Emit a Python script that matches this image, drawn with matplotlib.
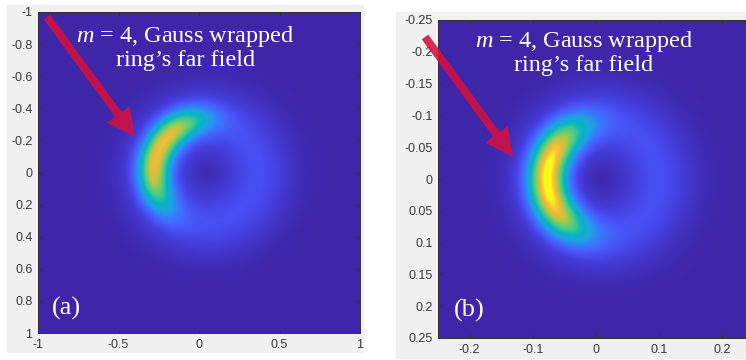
import numpy as np
import matplotlib
matplotlib.use("Agg")
import matplotlib.pyplot as plt
from matplotlib.colors import LinearSegmentedColormap
from matplotlib.patches import Rectangle, FancyArrow

plt.rcParams["mathtext.fontset"] = "custom"
plt.rcParams["mathtext.rm"] = "Liberation Serif"
plt.rcParams["mathtext.it"] = "Liberation Serif:italic"

# parula-like colour map (MATLAB default)
parula_pos = [0, 8, 12, 16, 20, 24, 28, 32, 36, 40, 44, 48, 52, 56, 60, 63]
parula_rgb = [
    (0.2422, 0.1504, 0.6603), (0.2717, 0.2468, 0.8779), (0.2810, 0.3228, 0.9579),
    (0.2691, 0.4016, 0.9917), (0.2000, 0.4900, 0.9900), (0.1540, 0.5902, 0.9218),
    (0.1093, 0.6547, 0.8591), (0.0238, 0.6943, 0.7963), (0.0770, 0.7349, 0.7000),
    (0.2161, 0.7843, 0.5923), (0.3560, 0.8000, 0.4800), (0.5300, 0.7950, 0.3700),
    (0.7463, 0.7735, 0.2645), (0.9000, 0.7300, 0.2400), (0.9932, 0.7731, 0.2093),
    (0.9769, 0.9839, 0.0805),
]
parula = LinearSegmentedColormap.from_list(
    "parula", list(zip(np.array(parula_pos) / 63.0, parula_rgb)))

# far-field ring parameters for the two panels
half_span = [1.0, 0.25]           # axis half range
ring_x0 = [0.05, 0.01]            # ring centre
ring_y0 = [0.0, 0.0]
halo_radius = [0.31, 0.088]
halo_width = [0.22, 0.058]
halo_amp = [0.18, 0.18]
cres_radius = [0.33, 0.087]
cres_width = [0.10, 0.03]
cres_angle = [204.0, 180.0]       # degrees, y axis pointing down
cres_spread = [66.0, 72.0]
cres_amp = [0.74, 0.84]


x_ticks = [[-1, -0.5, 0, 0.5, 1], [-0.2, -0.1, 0, 0.1, 0.2]]
y_ticks = [[-1, -0.8, -0.6, -0.4, -0.2, 0, 0.2, 0.4, 0.6, 0.8, 1],
           [-0.25, -0.2, -0.15, -0.1, -0.05, 0, 0.05, 0.1, 0.15, 0.2, 0.25]]
panel_tags = ["(a)", "(b)"]
caption = "$m$ = 4, Gauss wrapped\nring\u2019s far field"


def far_field(i, n=400):
    s = half_span[i]
    g = np.linspace(-s, s, n)
    X, Y = np.meshgrid(g, g)
    dx, dy = X - ring_x0[i], Y - ring_y0[i]
    r = np.hypot(dx, dy)
    th = np.degrees(np.arctan2(dy, dx))
    dth = (th - cres_angle[i] + 180) % 360 - 180
    halo = halo_amp[i] * np.exp(-((r - halo_radius[i]) / halo_width[i]) ** 2)
    cres = cres_amp[i] * np.exp(-((r - cres_radius[i]) / cres_width[i]) ** 2) \
        * np.exp(-np.abs(dth / cres_spread[i]) ** 3)
    return halo + cres


fig = plt.figure(figsize=(7.46, 3.6), dpi=100)
W, H = 746, 360

def px(x, y, w, h):
    return [x / W, 1 - (y + h) / H, w / W, h / H]

# grey MATLAB figure backgrounds
for x, y, w, h in [(7, 5, 356, 347), (396, 12, 360, 346)]:
    fig.add_artist(Rectangle((x / W, 1 - (y + h) / H), w / W, h / H,
                             transform=fig.transFigure, color="#f0f0f0", zorder=0))

axes_box = [px(38, 12, 322, 321), px(438, 20, 316, 318)]
text_pos = [(0.457, 0.89), (0.462, 0.898)]
tag_pos = [(0.087, 0.078), (0.10, 0.088)]

for i in range(2):
    ax = fig.add_axes(axes_box[i])
    s = half_span[i]
    ax.imshow(far_field(i), cmap=parula, vmin=0, vmax=1, origin="upper",
              extent=(-s, s, s, -s), aspect="auto", interpolation="bilinear")
    ax.set_xlim(-s, s)
    ax.set_ylim(s, -s)
    ax.set_xticks(x_ticks[i])
    ax.set_yticks(y_ticks[i])
    ax.set_xticklabels([f"{v:g}" for v in x_ticks[i]])
    ax.set_yticklabels([f"{v:g}" for v in y_ticks[i]])
    ax.tick_params(direction="in", length=3, width=0.6, color="#333333",
                   labelsize=9, labelcolor="#3a3a3a", top=True, right=True, pad=4)
    for lab in ax.get_xticklabels() + ax.get_yticklabels():
        lab.set_family("Liberation Sans")
    for sp in ax.spines.values():
        sp.set_color("#333333")
        sp.set_linewidth(0.7)
    ax.text(*text_pos[i], caption, transform=ax.transAxes, ha="center", va="center",
            color="white", fontsize=17.5, family="Liberation Serif", linespacing=1.05)
    ax.text(*tag_pos[i], panel_tags[i], transform=ax.transAxes, ha="center", va="center",
            color="white", fontsize=19, family="Liberation Serif")

# red pointer arrows (inch coordinates)
for tail_x, tail_y in [(0.47, 3.43), (4.25, 3.23)]:
    fig.add_artist(FancyArrow(tail_x, tail_y, 0.88, -1.20, width=0.08,
                              head_width=0.28, head_length=0.28,
                              length_includes_head=True, color="#d41040",
                              alpha=0.88, lw=0, transform=fig.dpi_scale_trans,
                              zorder=5))

fig.savefig("out.png", dpi=100)
